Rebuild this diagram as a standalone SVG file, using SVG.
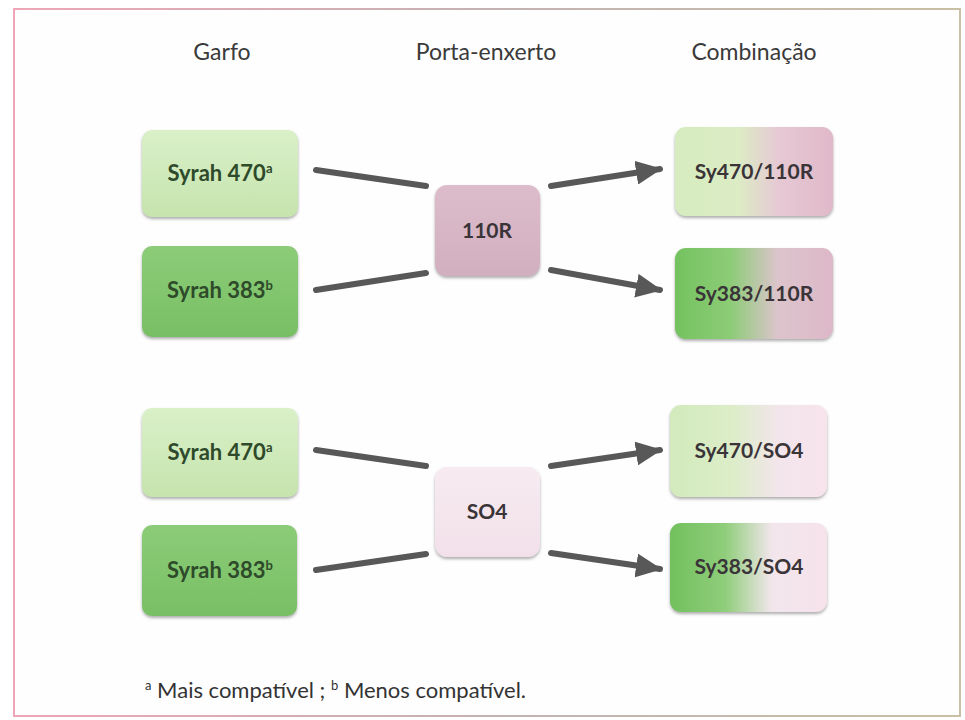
<svg xmlns="http://www.w3.org/2000/svg" width="965" height="720" viewBox="0 0 965 720">
  <defs>
    <style>
      .hdr { font-family: Lato, "Open Sans", "Liberation Sans", sans-serif; font-size: 23px; fill: #3a3a3a; text-anchor: middle; }
      .lbl { font-family: Lato, "Open Sans", "Liberation Sans", sans-serif; font-size: 21px; font-weight: bold; text-anchor: middle; }
      .big { font-size: 22px; }
      .green { fill: #2e4a2a; }
      .dark { fill: #3a3438; }
      .sup { font-size: 13px; }
      .note { font-family: Lato, "Open Sans", "Liberation Sans", sans-serif; font-size: 22px; fill: #333; }
      .link { stroke: #585858; stroke-width: 6; stroke-linecap: round; fill: none; }
      .box { filter: url(#shadow); }
    </style>
    <filter id="shadow" x="-10%" y="-10%" width="120%" height="130%">
      <feDropShadow dx="0" dy="2" stdDeviation="1.5" flood-color="#6a6a6a" flood-opacity="0.55"/>
    </filter>
    <marker id="head" markerUnits="userSpaceOnUse" markerWidth="26" markerHeight="24" refX="24" refY="12" orient="auto">
      <path d="M0,0 L26,12 L0,24 Z" fill="#585858"/>
    </marker>
    <linearGradient id="lightGreen" x1="0" y1="0" x2="0" y2="1">
      <stop offset="0" stop-color="#daf0c8"/>
      <stop offset="1" stop-color="#c6e4ae"/>
    </linearGradient>
    <linearGradient id="midGreen" x1="0" y1="0" x2="0" y2="1">
      <stop offset="0" stop-color="#8ccc78"/>
      <stop offset="1" stop-color="#78bf64"/>
    </linearGradient>
    <linearGradient id="mauve" x1="0" y1="0" x2="0" y2="1">
      <stop offset="0" stop-color="#dcbccb"/>
      <stop offset="1" stop-color="#d2afbf"/>
    </linearGradient>
    <linearGradient id="blush" x1="0" y1="0" x2="0" y2="1">
      <stop offset="0" stop-color="#f7ebf1"/>
      <stop offset="1" stop-color="#f2e0e9"/>
    </linearGradient>
    <linearGradient id="g470r" x1="0" y1="0" x2="1" y2="0">
      <stop offset="0" stop-color="#d6ecbf"/>
      <stop offset="0.4" stop-color="#dcecc4"/>
      <stop offset="0.65" stop-color="#e6c9d4"/>
      <stop offset="1" stop-color="#e0b9c9"/>
    </linearGradient>
    <linearGradient id="g383r" x1="0" y1="0" x2="1" y2="0">
      <stop offset="0" stop-color="#74c260"/>
      <stop offset="0.35" stop-color="#8ccc76"/>
      <stop offset="0.65" stop-color="#dcc4cc"/>
      <stop offset="1" stop-color="#ddb8c8"/>
    </linearGradient>
    <linearGradient id="g470s" x1="0" y1="0" x2="1" y2="0">
      <stop offset="0" stop-color="#d2eabc"/>
      <stop offset="0.4" stop-color="#dcedc8"/>
      <stop offset="0.7" stop-color="#f3e5ec"/>
      <stop offset="1" stop-color="#f7e3ec"/>
    </linearGradient>
    <linearGradient id="g383s" x1="0" y1="0" x2="1" y2="0">
      <stop offset="0" stop-color="#72c05e"/>
      <stop offset="0.35" stop-color="#8fcd7a"/>
      <stop offset="0.65" stop-color="#f2e6ec"/>
      <stop offset="1" stop-color="#f6e2eb"/>
    </linearGradient>
    <linearGradient id="frame" x1="0" y1="0" x2="1" y2="0">
      <stop offset="0" stop-color="#eea6b6"/>
      <stop offset="0.5" stop-color="#c4b2b4"/>
      <stop offset="1" stop-color="#c8bfa4"/>
    </linearGradient>
  </defs>

  <rect width="965" height="720" fill="#ffffff"/>
  <rect x="14" y="9" width="946" height="707" fill="#fefefe" stroke="url(#frame)" stroke-width="2"/>

  <!-- column headings -->
  <g id="headings">
    <text class="hdr" x="222" y="60">Garfo</text>
    <text class="hdr" x="486" y="60">Porta-enxerto</text>
    <text class="hdr" x="754" y="60">Combinação</text>
  </g>

  <!-- connectors -->
  <g id="connectors">
    <line class="link" x1="316" y1="170" x2="426" y2="186"/>
    <line class="link" x1="316" y1="290" x2="426" y2="273"/>
    <line class="link" x1="551" y1="186" x2="660" y2="169" marker-end="url(#head)"/>
    <line class="link" x1="551" y1="270" x2="660" y2="290" marker-end="url(#head)"/>
    <line class="link" x1="316" y1="450" x2="426" y2="466"/>
    <line class="link" x1="316" y1="570" x2="426" y2="554"/>
    <line class="link" x1="551" y1="466" x2="660" y2="450" marker-end="url(#head)"/>
    <line class="link" x1="551" y1="553" x2="660" y2="569" marker-end="url(#head)"/>
  </g>

  <!-- scions, first group -->
  <g id="syrah470-a">
    <rect class="box" x="142" y="130" width="156" height="87" rx="10" fill="url(#lightGreen)"/>
    <text class="lbl big green" x="220" y="181">Syrah 470<tspan class="sup" dy="-8">a</tspan></text>
  </g>
  <g id="syrah383-a">
    <rect class="box" x="142" y="246" width="156" height="91" rx="10" fill="url(#midGreen)"/>
    <text class="lbl big green" x="220" y="298">Syrah 383<tspan class="sup" dy="-8">b</tspan></text>
  </g>

  <!-- rootstock 110R -->
  <g id="r110R">
    <rect class="box" x="435" y="185" width="105" height="91" rx="12" fill="url(#mauve)"/>
    <text class="lbl dark" x="487" y="238">110R</text>
  </g>

  <!-- combinations with 110R -->
  <g id="sy470-110R">
    <rect class="box" x="675" y="127" width="158" height="89" rx="11" fill="url(#g470r)"/>
    <text class="lbl dark" x="754" y="179">Sy470/110R</text>
  </g>
  <g id="sy383-110R">
    <rect class="box" x="675" y="248" width="158" height="91" rx="11" fill="url(#g383r)"/>
    <text class="lbl dark" x="754" y="301">Sy383/110R</text>
  </g>

  <!-- scions, second group -->
  <g id="syrah470-b">
    <rect class="box" x="142" y="408" width="156" height="89" rx="10" fill="url(#lightGreen)"/>
    <text class="lbl big green" x="220" y="460">Syrah 470<tspan class="sup" dy="-8">a</tspan></text>
  </g>
  <g id="syrah383-b">
    <rect class="box" x="142" y="525" width="155" height="91" rx="10" fill="url(#midGreen)"/>
    <text class="lbl big green" x="220" y="578">Syrah 383<tspan class="sup" dy="-8">b</tspan></text>
  </g>

  <!-- rootstock SO4 -->
  <g id="rSO4">
    <rect class="box" x="435" y="467" width="105" height="90" rx="12" fill="url(#blush)"/>
    <text class="lbl dark" x="487" y="519">SO4</text>
  </g>

  <!-- combinations with SO4 -->
  <g id="sy470-SO4">
    <rect class="box" x="670" y="405" width="157" height="92" rx="11" fill="url(#g470s)"/>
    <text class="lbl dark" x="749" y="458">Sy470/SO4</text>
  </g>
  <g id="sy383-SO4">
    <rect class="box" x="670" y="523" width="157" height="89" rx="11" fill="url(#g383s)"/>
    <text class="lbl dark" x="749" y="574">Sy383/SO4</text>
  </g>

  <!-- footnote -->
  <text class="note" x="145" y="698"><tspan class="sup" dy="-8">a</tspan><tspan dy="8"> Mais compatível ; </tspan><tspan class="sup" dy="-8">b</tspan><tspan dy="8"> Menos compatível.</tspan></text>
</svg>
